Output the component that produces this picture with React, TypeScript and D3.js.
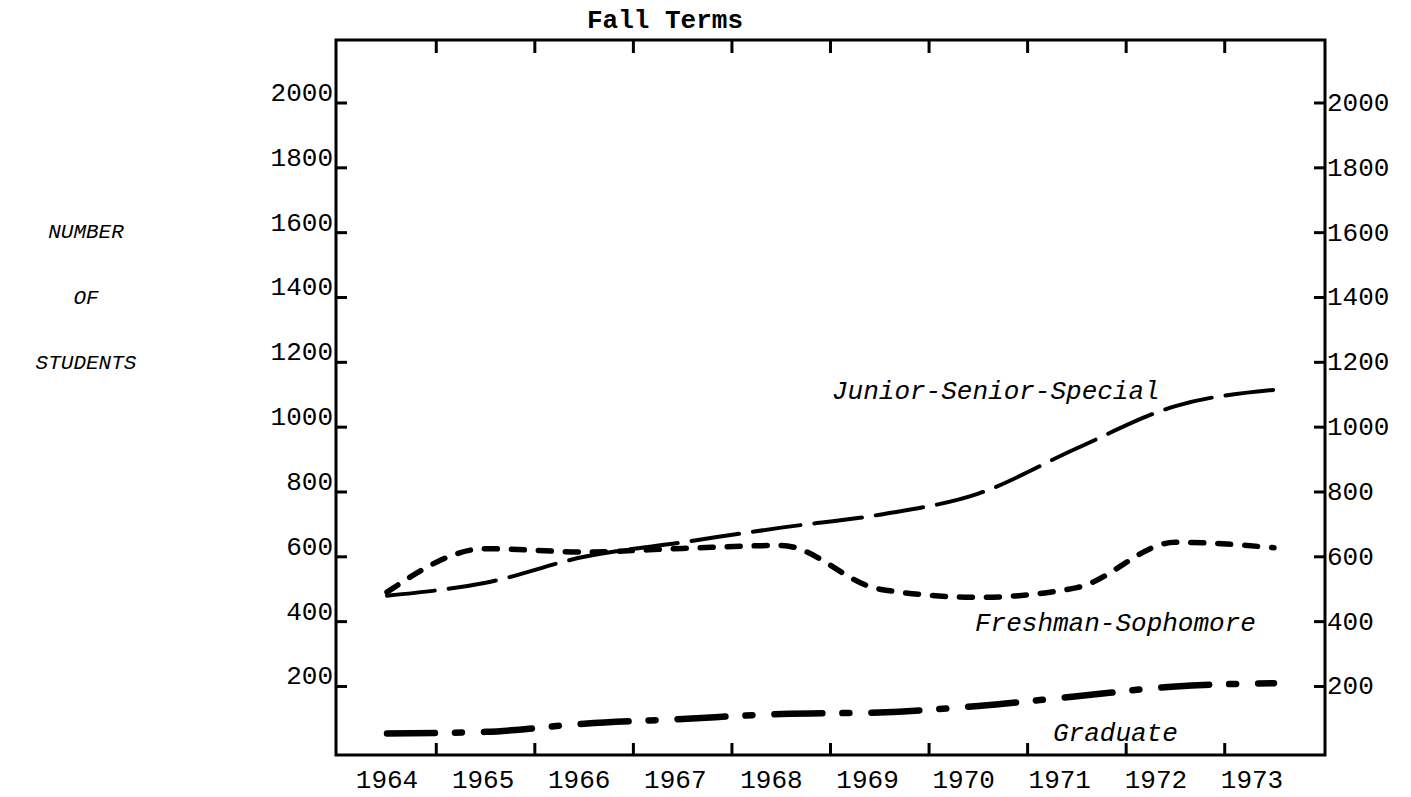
import React from "react";
import * as d3 from "d3";

const years = [1964, 1965, 1966, 1967, 1968, 1969, 1970, 1971, 1972, 1973];
const juniorSeniorSpecial = [480, 520, 600, 645, 690, 730, 795, 935, 1065, 1115];
const freshmanSophomore = [491, 625, 615, 626, 635, 500, 475, 505, 645, 628];
const graduate = [55, 60, 85, 100, 115, 120, 140, 170, 200, 210];
const yTicks = [200, 400, 600, 800, 1000, 1200, 1400, 1600, 1800, 2000];
const yAxisWords = ["NUMBER", "OF", "STUDENTS"];
const title = "Fall Terms";

const W = 1411;
const H = 797;
const L = 336;
const R = 1325;
const T = 40;
const B = 755;

export default function App() {
  const x = d3.scaleLinear().domain([1964, 1973]).range([387, 1274]);
  const xLabel = d3.scalePoint<number>().domain(years).range([387, 1252]);
  const y = d3.scaleLinear().domain([0, 2000]).range([751.3, 103]);
  const tickYears = years.slice(0, -1).map((yr) => yr + 0.5);

  const line = d3
    .line<number>()
    .x((_, i) => x(years[i]))
    .y((v) => y(v))
    .curve(d3.curveMonotoneX);

  const numFont = "'Liberation Mono', 'DejaVu Sans Mono', monospace";

  return (
    <svg
      width={W}
      height={H}
      style={{ position: "absolute", left: 0, top: 0, background: "#fff" }}
    >
      <rect x={0} y={0} width={W} height={H} fill="#fff" />
      {/* frame */}
      <rect x={L} y={T} width={R - L} height={B - T} fill="none" stroke="#000" strokeWidth={3} />
      {/* top & bottom ticks */}
      {tickYears.map((t) => (
        <g key={t}>
          <line x1={x(t)} x2={x(t)} y1={T} y2={T + 13} stroke="#000" strokeWidth={3} />
          <line x1={x(t)} x2={x(t)} y1={B} y2={B - 12} stroke="#000" strokeWidth={3} />
        </g>
      ))}
      {/* left & right ticks and labels */}
      {yTicks.map((v) => (
        <g key={v}>
          <line x1={L} x2={L + 11} y1={y(v)} y2={y(v)} stroke="#000" strokeWidth={3} />
          <line x1={R} x2={R - 11} y1={y(v)} y2={y(v)} stroke="#000" strokeWidth={3} />
          <text
            x={L - 3}
            y={y(v) - 2}
            textAnchor="end"
            fontFamily={numFont}
            fontSize={26}
            fill="#000"
          >
            {v}
          </text>
          <text x={R + 2} y={y(v) + 8} textAnchor="start" fontFamily={numFont} fontSize={26} fill="#000">
            {v}
          </text>
        </g>
      ))}
      {/* x labels */}
      {years.map((yr) => (
        <text
          key={yr}
          x={xLabel(yr)}
          y={788}
          textAnchor="middle"
          fontFamily={numFont}
          fontSize={26}
          fill="#000"
        >
          {yr}
        </text>
      ))}
      {/* title */}
      <text x={665} y={28} textAnchor="middle" fontFamily={numFont} fontSize={26} fontWeight="bold" fill="#000">
        {title}
      </text>
      {/* y axis words */}
      {yAxisWords.map((w, i) => (
        <text
          key={w}
          x={86}
          y={238 + i * 65.5}
          textAnchor="middle"
          fontFamily={numFont}
          fontStyle="italic"
          fontSize={21}
          fill="#000"
        >
          {w}
        </text>
      ))}
      {/* series */}
      <path
        d={line(juniorSeniorSpecial) || ""}
        fill="none"
        stroke="#000"
        strokeWidth={4}
        strokeLinecap="round"
        strokeDasharray="48 14"
      />
      <path
        d={line(freshmanSophomore) || ""}
        fill="none"
        stroke="#000"
        strokeWidth={5.5}
        strokeLinecap="round"
        strokeDasharray="13 14"
      />
      <path
        d={line(graduate) || ""}
        fill="none"
        stroke="#000"
        strokeWidth={6.5}
        strokeLinecap="round"
        strokeDasharray="48 20 7 22"
      />
      {/* series labels */}
      <text x={832} y={399} fontFamily={numFont} fontStyle="italic" fontSize={26} fill="#000">
        Junior-Senior-Special
      </text>
      <text x={975} y={631} fontFamily={numFont} fontStyle="italic" fontSize={26} fill="#000">
        Freshman-Sophomore
      </text>
      <text x={1053} y={741} fontFamily={numFont} fontStyle="italic" fontSize={26} fill="#000">
        Graduate
      </text>
    </svg>
  );
}
